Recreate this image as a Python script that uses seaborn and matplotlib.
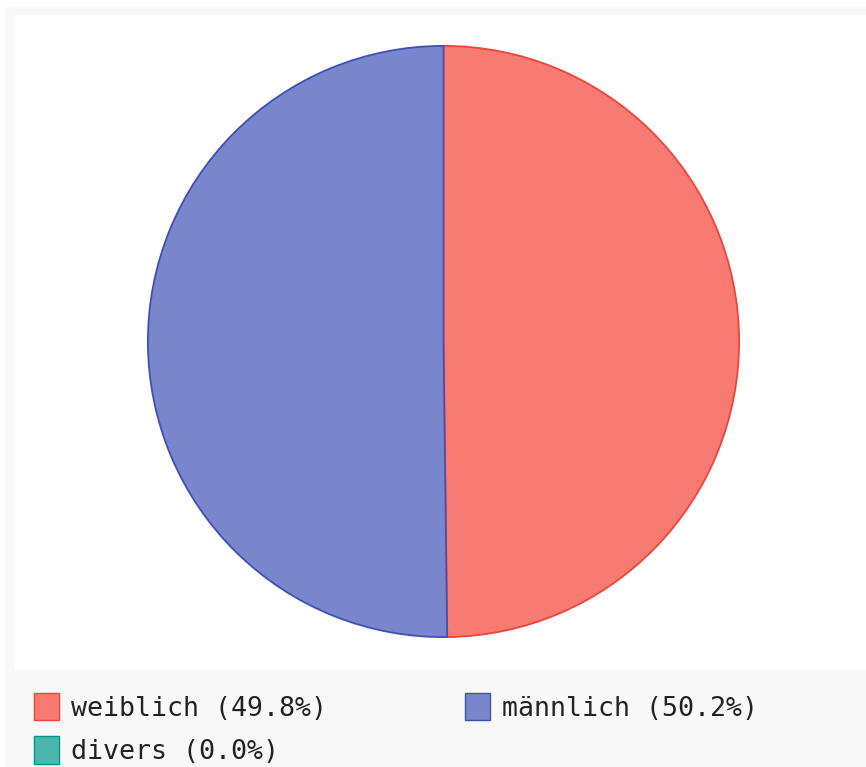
import matplotlib
matplotlib.use("Agg")
import matplotlib.pyplot as plt
from matplotlib.patches import Rectangle, Patch
import seaborn as sns

# Gender distribution
categories = ["weiblich", "männlich", "divers"]
shares = [49.8, 50.2, 0.0]
base_colors = ["#F44336", "#3F51B5", "#009688"]
fill_colors = ["#F77B72", "#7986CB", "#4DB6AC"]

sns.set_theme(style="white")
plt.rcParams["font.family"] = ["DejaVu Sans Mono", "DejaVu Sans"]

W, H = 866, 767
fig = plt.figure(figsize=(W / 100, H / 100), dpi=100, facecolor="white")

# outer light frame and white chart panel
fig.patches.append(Rectangle((5 / W, 0), 1, 1 - 7 / H, transform=fig.transFigure,
                             facecolor="#F8F8F8", edgecolor="none", zorder=0))
fig.patches.append(Rectangle((15 / W, 1 - 670 / H), 1, (670 - 15) / H,
                             transform=fig.transFigure, facecolor="white",
                             edgecolor="none", zorder=0))

cx, cy, r = 443.5, 341.5, 296.5
ax = fig.add_axes([(cx - r) / W, 1 - (cy + r) / H, 2 * r / W, 2 * r / H])
ax.set_facecolor("none")
ax.set_zorder(3)

vals = [v for v in shares if v > 0]
cols = [c for v, c in zip(shares, fill_colors) if v > 0]
edges = [c for v, c in zip(shares, base_colors) if v > 0]
wedges, _ = ax.pie(vals, colors=cols, startangle=90, counterclock=False,
                   radius=1, wedgeprops=dict(linewidth=1.3))
for w, e in zip(wedges, edges):
    w.set_edgecolor(e)
ax.set_xlim(-1.003, 1.003)
ax.set_ylim(-1.003, 1.003)
ax.set_aspect("equal")
ax.set_axis_off()

# legend entries laid out row by row
handles = [Patch(facecolor=f, edgecolor=b, linewidth=1.0) for f, b in zip(fill_colors, base_colors)]
labels = [f"{c} ({v:.1f}%)" for c, v in zip(categories, shares)]
order = [0, 2, 1]
leg = fig.legend([handles[i] for i in order], [labels[i] for i in order],
                 ncol=2, loc="upper left", bbox_to_anchor=(26 / W, 1 - 685 / H),
                 frameon=False, fontsize=19.2, handlelength=0.95, handleheight=1.2,
                 handletextpad=0.45, columnspacing=5.15, labelspacing=0.55,
                 borderaxespad=0, borderpad=0.3)
leg.set_zorder(4)
for t in leg.get_texts():
    t.set_color("#222222")

fig.savefig("out.png", dpi=100, facecolor="white")
